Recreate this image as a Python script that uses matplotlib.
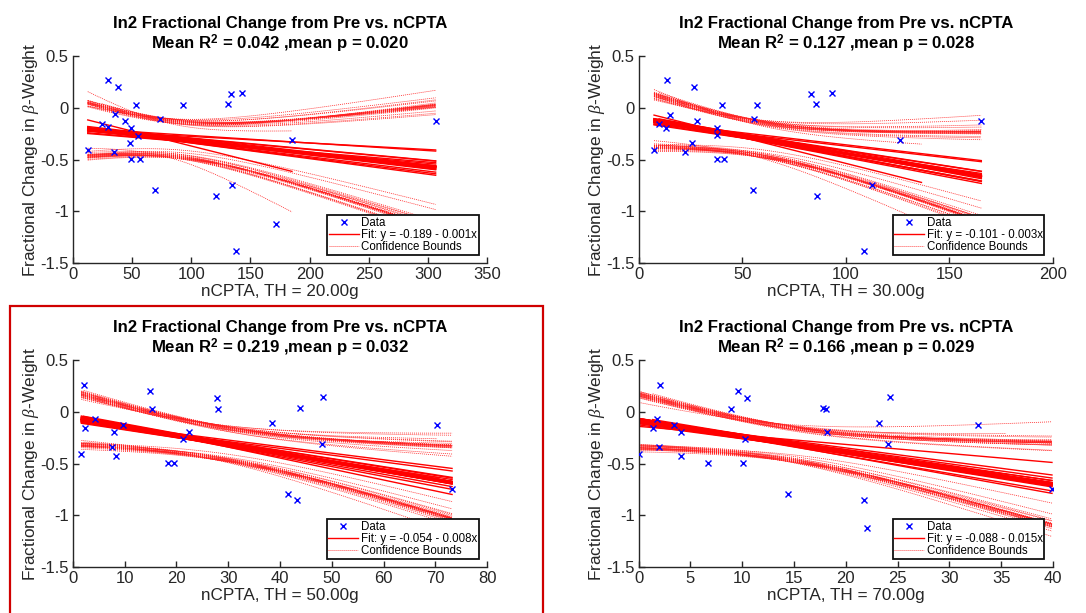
import numpy as np
import matplotlib
matplotlib.use("Agg")
import matplotlib.pyplot as plt
from matplotlib.patches import Rectangle
from matplotlib.lines import Line2D

# ---------------- data ----------------
# (some points lie behind the legend box in the reference; their x positions are estimated)
x_th20 = [12.7, 29.5, 38.5, 24.5, 30.1, 35.7, 35.2, 44.5, 49.0, 48.4, 49.5, 53.2, 55.1,
          56.6, 73.4, 69.8, 93.4, 131.1, 133.7, 143.2, 134.2, 121.3, 171.4, 138.2, 185.1, 306.4]
y_th20 = [-0.407, 0.265, 0.198, -0.153, -0.188, -0.063, -0.426, -0.124, -0.195, -0.336, -0.497, 0.024, -0.268,
          -0.497, -0.108, -0.796, 0.024, 0.037, 0.133, 0.146, -0.748, -0.854, -1.117, -1.384, -0.310, -0.124]

x_th30 = [7.4, 9.8, 13.8, 13.4, 15.1, 22.5, 25.7, 26.7, 28.0, 37.7, 37.7, 37.7, 40.1,
          41.4, 55.7, 57.3, 55.3, 83.0, 85.6, 93.2, 85.9, 112.8, 136.5, 108.9, 126.1, 165.4]
y_th30 = [-0.407, -0.156, 0.265, -0.195, -0.066, -0.429, -0.336, 0.198, -0.124, -0.191, -0.265, -0.497, 0.024,
          -0.497, -0.108, 0.024, -0.796, 0.133, 0.037, 0.146, -0.854, -0.748, -1.117, -1.384, -0.310, -0.124]

x_th50 = [1.67, 2.12, 2.38, 4.24, 7.59, 7.91, 8.42, 9.71, 14.92, 15.3, 18.33, 19.49,
          21.29, 22.38, 27.85, 28.1, 38.46, 41.54, 43.28, 43.8, 48.1, 48.36, 70.3, 73.2, 66.0, 55.0]
y_th50 = [-0.407, 0.262, -0.156, -0.066, -0.336, -0.195, -0.426, -0.124, 0.198, 0.024, -0.497, -0.497,
          -0.265, -0.191, 0.133, 0.024, -0.111, -0.796, -0.854, 0.037, -0.310, 0.146, -0.124, -0.748, -1.117, -1.384]

x_th70 = [0.0, 1.35, 1.8, 2.03, 1.93, 3.38, 4.12, 4.05, 6.66, 8.88, 9.59, 10.07, 10.3,
          10.46, 14.38, 17.8, 18.12, 18.21, 21.79, 22.08, 23.2, 24.04, 24.23, 32.8, 39.9, 35.5]
y_th70 = [-0.407, -0.156, -0.066, 0.262, -0.336, -0.124, -0.195, -0.426, -0.497, 0.024, 0.198, -0.497, -0.265,
          0.133, -0.796, 0.037, 0.024, -0.191, -0.854, -1.117, -0.111, -0.310, 0.146, -0.124, -0.748, -1.384]

thresholds = ["20.00g", "30.00g", "50.00g", "70.00g"]
mean_r2 = ["0.042", "0.127", "0.219", "0.166"]
mean_p = ["0.020", "0.028", "0.032", "0.029"]
fit_labels = ["Fit: y = -0.189 - 0.001x", "Fit: y = -0.101 - 0.003x",
              "Fit: y = -0.054 - 0.008x", "Fit: y = -0.088 - 0.015x"]
x_limits = [350, 200, 80, 40]
x_steps = [50, 50, 10, 5]
y_ticks = [-1.5, -1, -0.5, 0, 0.5]
y_ticklabels = ["-1.5", "-1", "-0.5", "0", "0.5"]

datasets = [(x_th20, y_th20), (x_th30, y_th30), (x_th50, y_th50), (x_th70, y_th70)]

# ---------------- style ----------------
plt.rcParams["font.family"] = ["Liberation Sans", "DejaVu Sans"]
plt.rcParams["axes.unicode_minus"] = False
plt.rcParams["mathtext.fontset"] = "custom"
plt.rcParams["mathtext.rm"] = "Liberation Sans"
plt.rcParams["mathtext.bf"] = "Liberation Sans:bold"
plt.rcParams["mathtext.it"] = "Liberation Serif:italic"

AX_COL = "#262626"
W, H = 1086, 613
fig = plt.figure(figsize=(W / 100, H / 100), dpi=100)

# axes boxes in pixel coords (left, top, right, bottom)
boxes = [(72.7, 56, 487.3, 263.3), (638.7, 56, 1053, 263.3),
         (72.7, 360, 487.3, 567.3), (638.7, 360, 1053, 567.3)]

T_CRIT = 2.07
DOT = (0, (1.3, 1.3))
BOUND_COL = "#ff2020"

for k, ((xs, ys), (l, t, r, b)) in enumerate(zip(datasets, boxes)):
    ax = fig.add_axes([l / W, 1 - b / H, (r - l) / W, (b - t) / H])
    xs = np.asarray(xs, float)
    ys = np.asarray(ys, float)
    n = len(xs)
    # leave-one-out linear fits with 95% confidence bounds
    for i in range(n):
        m = np.ones(n, bool)
        m[i] = False
        xx, yy = xs[m], ys[m]
        slope, icpt = np.polyfit(xx, yy, 1)
        grid = np.linspace(xx.min(), xx.max(), 120)
        yhat = icpt + slope * grid
        res = yy - (icpt + slope * xx)
        dof = len(xx) - 2
        s = np.sqrt(np.sum(res ** 2) / dof)
        sxx = np.sum((xx - xx.mean()) ** 2)
        half = T_CRIT * s * np.sqrt(1.0 / len(xx) + (grid - xx.mean()) ** 2 / sxx)
        ax.plot(grid, yhat, color="red", lw=1.0, zorder=2)
        ax.plot(grid, yhat + half, color=BOUND_COL, lw=0.55, ls=DOT, zorder=1)
        ax.plot(grid, yhat - half, color=BOUND_COL, lw=0.55, ls=DOT, zorder=1)
    ax.plot(xs, ys, ls="none", marker="x", color="blue", ms=4.2, mew=1.0, zorder=3)

    ax.set_xlim(0, x_limits[k])
    ax.set_ylim(-1.5, 0.5)
    ax.set_xticks(np.arange(0, x_limits[k] + 0.1, x_steps[k]))
    ax.set_yticks(y_ticks)
    ax.set_yticklabels(y_ticklabels)
    for sp in ["top", "right"]:
        ax.spines[sp].set_visible(False)
    for sp in ["left", "bottom"]:
        ax.spines[sp].set_color(AX_COL)
        ax.spines[sp].set_linewidth(1.0)
    ax.tick_params(direction="in", length=4, width=1.0, colors=AX_COL,
                   labelsize=12, pad=3)
    ax.set_xlabel("nCPTA, TH = " + thresholds[k], fontsize=12.3, color=AX_COL)
    ax.xaxis.set_label_coords(0.5, -0.1)
    ax.set_ylabel(r"Fractional Change in $\beta$-Weight", fontsize=12.4, color=AX_COL)
    ax.yaxis.set_label_coords(-0.077, 0.5)
    ax.set_title("In2 Fractional Change from Pre vs. nCPTA\n"
                 r"Mean R$^{\mathbf{2}}$ = " + mean_r2[k] + " ,mean p = " + mean_p[k],
                 fontsize=12.1, fontweight="bold", pad=4.5, linespacing=1.15)

    handles = [Line2D([], [], ls="none", marker="x", color="blue", ms=4, mew=1.0),
               Line2D([], [], color="red", lw=1.0),
               Line2D([], [], color=BOUND_COL, lw=0.55, ls=DOT)]
    leg = ax.legend(handles, ["Data", fit_labels[k], "Confidence Bounds"],
                    loc="lower right", fontsize=8.3, frameon=True, fancybox=False,
                    borderaxespad=0.75, handlelength=2.6, handletextpad=0.25,
                    labelspacing=0.02, borderpad=0.12)
    leg.get_frame().set_edgecolor("#111111")
    leg.get_frame().set_linewidth(1.3)
    leg.get_frame().set_alpha(1.0)

# highlight rectangle around lower-left panel
fig.patches.append(Rectangle((10 / W, -0.02), (543.3 - 10) / W, 1 - 306 / H + 0.02,
                             transform=fig.transFigure, fill=False,
                             edgecolor="#d00000", lw=1.6, zorder=10))

fig.savefig("out.png", dpi=100, facecolor="white")
